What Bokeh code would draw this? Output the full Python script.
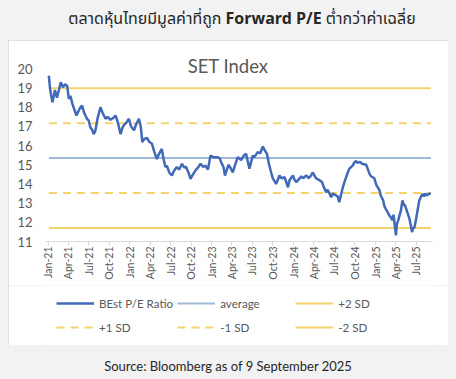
import pandas as pd
from bokeh.plotting import figure
from bokeh.models import Range1d, FixedTicker, Legend, LegendItem, Label, Div, ColumnDataSource
from bokeh.layouts import column
from bokeh.embed import file_html
from bokeh.resources import INLINE

# ---------------- data ----------------
dates = [
    "2021-01-04", "2021-01-09", "2021-01-13", "2021-01-20", "2021-01-26", "2021-01-31",
    "2021-02-09", "2021-02-18", "2021-02-26", "2021-03-08", "2021-03-18", "2021-03-27",
    "2021-04-03", "2021-04-10", "2021-04-19", "2021-05-02", "2021-05-07", "2021-05-16",
    "2021-05-25", "2021-06-01", "2021-06-11", "2021-06-23", "2021-07-01", "2021-07-08",
    "2021-07-17", "2021-07-23", "2021-07-30", "2021-08-09", "2021-08-22", "2021-09-01",
    "2021-09-14", "2021-09-23", "2021-10-06", "2021-10-19", "2021-10-28", "2021-11-06",
    "2021-11-20", "2021-11-29", "2021-12-07", "2021-12-16", "2021-12-27", "2022-01-06",
    "2022-01-19", "2022-01-28", "2022-02-10", "2022-02-18", "2022-02-25", "2022-03-06",
    "2022-03-18", "2022-03-28", "2022-04-09", "2022-04-19", "2022-05-01", "2022-05-08",
    "2022-05-23", "2022-05-31", "2022-06-08", "2022-06-15", "2022-06-25", "2022-07-07",
    "2022-07-17", "2022-07-29", "2022-08-09", "2022-08-21", "2022-09-01", "2022-09-08",
    "2022-09-19", "2022-09-28", "2022-10-09", "2022-10-20", "2022-10-31", "2022-11-12",
    "2022-11-23", "2022-12-04", "2022-12-15", "2022-12-26", "2023-01-09", "2023-01-25",
    "2023-02-05", "2023-02-13", "2023-02-22", "2023-03-01", "2023-03-16", "2023-03-25",
    "2023-04-05", "2023-04-15", "2023-04-27", "2023-05-12", "2023-05-25", "2023-06-03",
    "2023-06-18", "2023-07-03", "2023-07-10", "2023-07-25", "2023-08-05", "2023-08-17",
    "2023-08-23", "2023-09-04", "2023-09-14", "2023-09-23", "2023-09-30", "2023-10-15",
    "2023-10-30", "2023-11-08", "2023-11-22", "2023-12-07", "2023-12-14", "2023-12-29",
    "2024-01-06", "2024-01-13", "2024-02-05", "2024-02-13", "2024-02-27", "2024-03-08",
    "2024-03-19", "2024-03-26", "2024-04-10", "2024-04-25", "2024-05-07", "2024-05-13",
    "2024-05-25", "2024-06-01", "2024-06-17", "2024-06-24", "2024-07-09", "2024-07-16",
    "2024-07-23", "2024-07-28", "2024-08-08", "2024-08-18", "2024-08-30", "2024-09-06",
    "2024-09-22", "2024-09-27", "2024-10-06", "2024-10-12", "2024-10-24", "2024-11-02",
    "2024-11-20", "2024-11-25", "2024-12-05", "2024-12-12", "2024-12-26", "2025-01-04",
    "2025-01-19", "2025-01-24", "2025-02-04", "2025-02-09", "2025-02-19", "2025-02-25",
    "2025-03-03", "2025-03-08", "2025-03-18", "2025-03-22", "2025-03-27", "2025-04-02",
    "2025-04-06", "2025-04-12", "2025-04-24", "2025-05-01", "2025-05-07", "2025-05-12",
    "2025-06-01", "2025-06-06", "2025-06-13", "2025-06-17", "2025-06-24", "2025-07-01",
    "2025-07-15", "2025-07-21", "2025-07-30", "2025-08-05", "2025-08-11", "2025-08-17",
    "2025-08-29", "2025-09-05",
]
pe_ratio = [
    19.65, 19.0, 18.7, 18.26, 18.6, 18.9,
    18.5, 18.9, 19.3, 19.05, 19.2, 19.1,
    18.44, 18.6, 18.18, 17.74, 17.57, 17.8,
    18.0, 18.09, 17.7, 17.4, 17.3, 16.96,
    16.8, 16.6, 16.75, 17.4, 18.0, 17.7,
    17.4, 17.5, 17.35, 17.45, 17.57, 17.3,
    16.6, 16.95, 17.1, 17.2, 17.4, 17.0,
    16.8, 17.1, 17.4, 17.0, 16.18, 16.35,
    16.4, 16.2, 16.1, 15.7, 15.3, 15.5,
    15.83, 15.3, 14.88, 14.95, 14.6, 14.44,
    14.7, 14.88, 14.75, 15.05, 14.85, 14.9,
    14.6, 14.27, 14.5, 14.7, 14.85, 15.05,
    14.9, 14.95, 14.75, 15.48, 15.4, 15.4,
    15.35, 15.1, 14.9, 14.44, 15.0, 14.85,
    14.6, 15.0, 15.4, 15.25, 15.5, 15.57,
    14.8, 15.48, 15.4, 15.66, 15.6, 15.95,
    15.8, 15.57, 15.0, 14.6, 14.3, 14.0,
    14.44, 14.3, 14.35, 13.83, 14.2, 14.44,
    14.2, 14.1, 14.4, 14.3, 14.45, 14.3,
    14.44, 14.6, 14.3, 14.2, 14.1, 13.9,
    13.57, 13.7, 13.31, 13.5, 13.4, 13.35,
    13.05, 13.3, 13.83, 14.2, 14.6, 14.8,
    14.97, 15.1, 15.2, 15.1, 15.15, 15.05,
    15.0, 14.85, 14.53, 14.4, 14.3, 13.95,
    13.66, 13.4, 13.14, 12.85, 12.62, 12.5,
    12.36, 12.3, 12.1, 12.4, 11.9, 11.32,
    11.9, 12.1, 12.62, 13.14, 12.9, 12.9,
    12.19, 11.9, 11.49, 11.7, 11.75, 12.2,
    13.14, 13.3, 13.49, 13.35, 13.5, 13.4,
    13.49, 13.5,
]
average = 15.35
plus_2sd = 18.99
plus_1sd = 17.17
minus_1sd = 13.53
minus_2sd = 11.71

tick_dates = [
    "2021-01-01", "2021-04-01", "2021-07-01", "2021-10-01", "2022-01-01", "2022-04-01",
    "2022-07-01", "2022-10-01", "2023-01-01", "2023-04-01", "2023-07-01", "2023-10-01",
    "2024-01-01", "2024-04-01", "2024-07-01", "2024-10-01", "2025-01-01", "2025-04-01",
    "2025-07-01",
]
tick_labels = [
    "Jan-21", "Apr-21", "Jul-21", "Oct-21", "Jan-22", "Apr-22", "Jul-22", "Oct-22",
    "Jan-23", "Apr-23", "Jul-23", "Oct-23", "Jan-24", "Apr-24", "Jul-24", "Oct-24",
    "Jan-25", "Apr-25", "Jul-25",
]
y_ticks = [11, 12, 13, 14, 15, 16, 17, 18, 19, 20]

title_text = 'ตลาดหุ้นไทยมีมูลค่าที่ถูก <b>Forward P/E</b> ต่ำกว่าค่าเฉลี่ย'
chart_title = "SET Index"
source_text = "Source: Bloomberg as of 9 September 2025"
legend_labels = ["BEst P/E Ratio", "average", "+2 SD", "+1 SD", "-1 SD", "-2 SD"]


def ms(d):
    return pd.Timestamp(d).value // 10**6


x = pd.to_datetime(dates)
n = len(dates)
src = ColumnDataSource(dict(
    x=x, pe=pe_ratio,
    avg=[average] * n, p2=[plus_2sd] * n, p1=[plus_1sd] * n,
    m1=[minus_1sd] * n, m2=[minus_2sd] * n,
))

FONT = "Lato"
GRAY = "#595959"
BLUE = "#4169b8"
GOLD = "#f4d36c"
AVG = "#9fb9d6"

# column, color, dash, width
series = [
    ("pe", BLUE, "solid", 2.5),
    ("avg", AVG, "solid", 2),
    ("p2", GOLD, "solid", 2),
    ("p1", GOLD, "8 6", 2),
    ("m1", GOLD, "8 6", 2),
    ("m2", GOLD, "solid", 2),
]

p = figure(
    width=440, height=245, x_axis_type="datetime",
    output_backend="svg", toolbar_location=None,
    x_range=Range1d(ms("2020-12-20"), ms("2025-09-12")),
    y_range=Range1d(11, 20.7),
    min_border_left=37, min_border_right=16, min_border_top=15, min_border_bottom=44,
    background_fill_color="white", border_fill_color="white",
)
p.outline_line_color = None
p.grid.visible = False

rs = {}
for col, color, dash, w in series:
    rs[col] = p.line("x", col, source=src, line_color=color, line_width=w, line_dash=dash)
p.renderers = [rs["avg"], rs["p2"], rs["p1"], rs["m1"], rs["m2"], rs["pe"]]

# axes
xa = p.xaxis[0]
xa.ticker = FixedTicker(ticks=[ms(d) for d in tick_dates])
xa.major_label_overrides = {ms(d): lab for d, lab in zip(tick_dates, tick_labels)}
xa.major_label_orientation = 3.14159265 / 2
xa.axis_line_color = "#d9d9d9"
xa.major_tick_line_color = "#d9d9d9"
xa.major_tick_out = 4
xa.major_tick_in = 0
xa.minor_tick_line_color = None
xa.major_label_text_font = FONT
xa.major_label_text_font_size = "10.5px"
xa.major_label_text_color = GRAY
xa.major_label_standoff = 1

ya = p.yaxis[0]
ya.ticker = FixedTicker(ticks=y_ticks)
ya.axis_line_color = None
ya.major_tick_line_color = None
ya.minor_tick_line_color = None
ya.major_label_text_font = FONT
ya.major_label_text_font_size = "13px"
ya.major_label_text_color = GRAY
ya.major_label_standoff = 7

p.add_layout(Label(x=ms("2023-03-15"), y=20.15, text=chart_title, text_font=FONT,
                   text_font_size="18.5px", text_color=GRAY, text_align="center",
                   text_baseline="middle"))

# legend lives in its own strip below the chart
lf = figure(
    width=440, height=60, output_backend="svg", toolbar_location=None,
    x_range=Range1d(0, 1), y_range=Range1d(0, 1),
    x_axis_location=None, y_axis_location=None,
    min_border_left=0, min_border_right=0, min_border_top=0, min_border_bottom=0,
    background_fill_color="white", border_fill_color="white",
)
lf.outline_line_color = None
lf.grid.visible = False
lrs = {}
for col, color, dash, w in series:
    # same data; it falls outside this strip's ranges so only legend glyphs show
    lrs[col] = lf.line("x", col, source=src, line_color=color, line_width=w, line_dash=dash)

legend = Legend(
    items=[LegendItem(label=lab, renderers=[lrs[col]])
           for lab, (col, _, _, _) in zip(legend_labels, series)],
    location=(11, 8), orientation="horizontal", ncols=3,
    glyph_width=38, glyph_height=20, label_height=20, label_width=71,
    label_standoff=5, spacing=4, padding=0, margin=0,
    label_text_font=FONT, label_text_font_size="11.6px", label_text_color=GRAY,
    border_line_color=None, background_fill_alpha=0,
)
lf.add_layout(legend, "center")

title_div = Div(
    text=f'<div style="width:440px;text-align:center;padding-left:28px;box-sizing:border-box;'
         f'font-size:16px;line-height:22px;color:#262626;white-space:nowrap;'
         f'font-family:\'Noto Sans Thai\',\'Noto Sans\',Lato,sans-serif;">{title_text}</div>',
    width=440, height=32, margin=(0, 0, 0, 0),
)
source_div = Div(
    text=f'<div style="width:440px;text-align:center;padding-top:11px;font-size:13px;'
         f'line-height:20px;color:#262626;font-family:Lato,sans-serif;">{source_text}</div>',
    width=440, height=34, margin=(0, 0, 0, 0),
)

box = column(p, lf, spacing=0, styles={"outline": "1px solid #d6d6d6", "outline-offset": "-1px"})
layout = column(title_div, box, source_div, spacing=0)

html = file_html(layout, INLINE, title="SET Index Forward P/E")
css = ("<style>html{background:#f2f2f2 !important;}"
       "body{background:#f2f2f2 !important;margin:8px !important;padding:0 !important;"
       "box-sizing:content-box !important;height:auto !important;}</style>")
html = html.replace("</head>", css + "</head>", 1)
open("out.html", "w").write(html)
